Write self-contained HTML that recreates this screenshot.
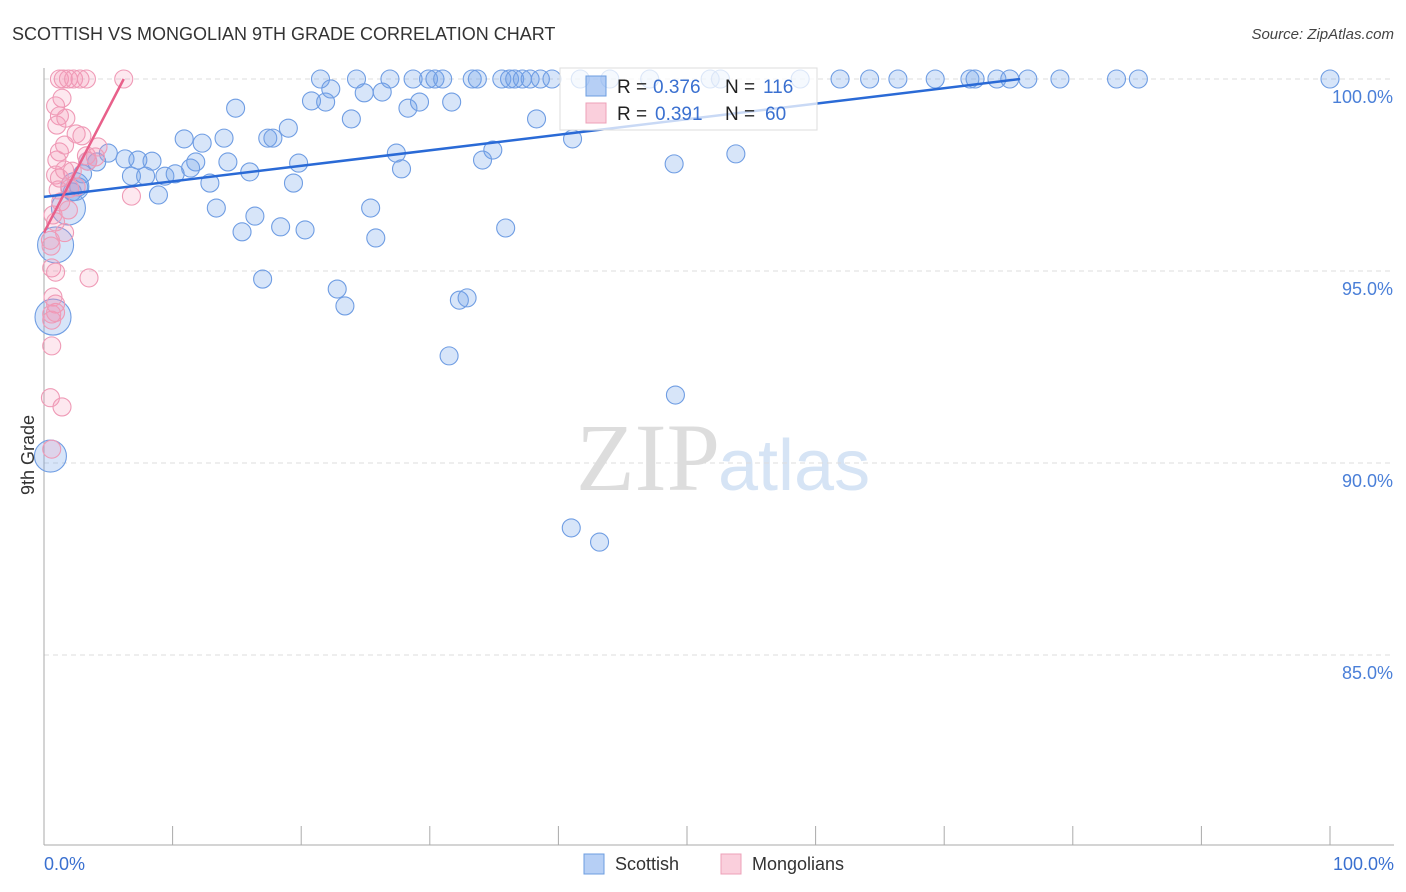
<!DOCTYPE html>
<html><head><meta charset="utf-8">
<style>
body{margin:0;background:#fff;font-family:"Liberation Sans",sans-serif;}
#wrap{position:relative;width:1406px;height:892px;overflow:hidden;}
</style></head>
<body>
<div id="wrap">
<svg id="svg" width="1406" height="892" xmlns="http://www.w3.org/2000/svg">
<text x="12" y="40" font-size="18" fill="#333">SCOTTISH VS MONGOLIAN 9TH GRADE CORRELATION CHART</text>
<text x="1394" y="39" font-size="15" font-style="italic" fill="#444" text-anchor="end">Source: ZipAtlas.com</text>
<text x="720" y="490" font-size="96" font-family="Liberation Serif, serif" fill="#ddd" text-anchor="end">ZIP</text>
<text x="718" y="490" font-size="72" fill="#d6e4f5">atlas</text>
<g id="grid"></g>
<g id="axes"></g>
<g id="pts"></g>
<g id="lines"></g>
<g>
<rect x="560" y="68" width="257" height="62" fill="rgba(255,255,255,0.75)" stroke="#ddd"/>
<rect x="586" y="76" width="20" height="20" fill="rgba(110,160,235,0.5)" stroke="#6c9de0"/>
<rect x="586" y="103" width="20" height="20" fill="rgba(245,160,185,0.5)" stroke="#eda0b8"/>
<text x="617" y="93" font-size="19" fill="#222">R =</text>
<text x="653" y="93" font-size="19" fill="#3a70d0">0.376</text>
<text x="725" y="93" font-size="19" fill="#222">N =</text>
<text x="763" y="93" font-size="19" fill="#3a70d0">116</text>
<text x="617" y="120" font-size="19" fill="#222">R =</text>
<text x="655" y="120" font-size="19" fill="#3a70d0">0.391</text>
<text x="725" y="120" font-size="19" fill="#222">N =</text>
<text x="765" y="120" font-size="19" fill="#3a70d0">60</text>
</g>
<text transform="translate(34,455) rotate(-90)" font-size="18" fill="#333" text-anchor="middle">9th Grade</text>
<text x="44" y="870" font-size="18" fill="#3a70d0">0.0%</text>
<text x="1394" y="870" font-size="18" fill="#3a70d0" text-anchor="end">100.0%</text>
<rect x="584" y="854" width="20" height="20" fill="rgba(110,160,235,0.5)" stroke="#6c9de0"/>
<text x="615" y="870" font-size="18" fill="#333">Scottish</text>
<rect x="721" y="854" width="20" height="20" fill="rgba(245,160,185,0.5)" stroke="#eda0b8"/>
<text x="752" y="870" font-size="18" fill="#333">Mongolians</text>
</svg>
</div>
<script>
const yTicks=[100,95,90,85];
const yTickLabels=["100.0%","95.0%","90.0%","85.0%"];
const xTicks=[0,10,20,30,40,50,60,70,80,90,100];
const blueX=[21.5,24.3,26.9,28.7,29.9,30.4,31.0,33.3,33.7,35.6,36.2,36.6,37.2,37.8,38.6,39.5,41.7,44.0,47.1,51.8,52.6,58.8,61.9,64.2,66.4,69.3,72.0,72.4,74.1,75.1,76.5,79.0,83.4,85.1,100,
14.9,20.8,21.9,22.3,23.9,24.9,26.3,28.3,29.2,31.7,38.3,10.9,12.3,14.0,17.4,17.8,19.0,27.4,34.9,41.1,53.8,49.0,34.1,27.8,19.8,14.3,11.8,11.4,5.0,6.3,8.4,7.3,3.4,4.1,
6.8,7.9,9.4,10.2,12.9,16.0,19.4,8.9,2.7,2.2,3.0,13.4,16.4,15.4,18.4,20.3,25.4,25.8,35.9,17.0,22.8,23.4,32.3,32.9,31.5,49.1,41.0,43.2,1.9,0.9,0.7,0.5,2.4];
const blueY=[100,100,100,100,100,100,100,100,100,100,100,100,100,100,100,100,100,100,100,100,100,100,100,100,100,100,100,100,100,100,100,100,100,100,100,
99.24,99.43,99.4,99.74,98.96,99.64,99.66,99.24,99.4,99.4,98.96,98.44,98.33,98.46,98.46,98.46,98.72,98.07,98.15,98.44,98.05,97.79,97.89,97.66,97.81,97.84,97.84,97.68,98.07,97.92,97.86,97.89,97.86,97.84,
97.47,97.47,97.47,97.53,97.29,97.58,97.29,96.98,97.19,97.06,97.53,96.64,96.43,96.02,96.15,96.07,96.64,95.86,96.12,94.79,94.53,94.09,94.24,94.3,92.79,91.77,88.31,87.94,96.64,95.68,93.8,90.18,97.2];
const pinkX=[1.2,1.5,1.9,2.3,2.8,3.3,6.2,1.4,1.2,1.0,1.7,1.2,1.6,2.5,2.95,1.0,0.9,1.2,1.6,2.2,2.5,3.3,4.2,4.0,3.4,1.1,1.3,0.7,0.9,0.5,0.55,1.6,0.6,0.9,1.9,3.5,6.8,0.7,0.9,0.6,0.6,0.9,0.6,0.5,1.4,0.6,0.9,2.0];
const pinkY=[100,100,100,100,100,100,100,99.5,99.04,98.8,98.98,98.1,98.28,98.57,98.52,97.89,97.5,97.42,97.63,97.6,97.19,98.0,98.23,97.97,97.86,97.11,96.8,96.46,96.28,95.8,95.65,96.0,95.08,94.97,96.59,94.82,96.95,94.32,94.14,93.88,93.72,93.92,93.05,91.7,91.46,90.36,99.3,97.15];
const blueLine=[0,96.93,75.9,100];
const pinkLine=[0,96.0,6.2,100];
const NS="http://www.w3.org/2000/svg";
const X0=44,X1=1330,Ytop=79,Ybot=847;
function sx(v){return X0+(X1-X0)*v/100;}
function sy(v){return Ytop+(100-v)*(Ybot-Ytop)/20;}
function mk(t,a,p){const e=document.createElementNS(NS,t);for(const k in a)e.setAttribute(k,a[k]);p.appendChild(e);return e;}
const grid=document.getElementById('grid'),axes=document.getElementById('axes'),pts=document.getElementById('pts'),lines=document.getElementById('lines');
yTicks.forEach((t,i)=>{
 const l=mk('line',{x1:44,x2:1394,y1:sy(t),y2:sy(t),stroke:'#ddd','stroke-dasharray':'5,4'},grid);
 
 
 const tx=mk('text',{x:1393,y:sy(t)+24,'font-size':18,fill:'#4a7fd8','text-anchor':'end'},grid);
 tx.textContent=yTickLabels[i];
 
 
});
const ya=mk('line',{x1:44,x2:44,y1:68,y2:845,stroke:'#aaa'},axes);


const xa=mk('line',{x1:44,x2:1394,y1:845,y2:845,stroke:'#aaa'},axes);


xTicks.forEach(t=>{
 const l=mk('line',{x1:sx(t),x2:sx(t),y1:826,y2:845,stroke:'#aaa'},axes);
 
 
});
const bigIdx=[blueX.length-5,blueX.length-4,blueX.length-3,blueX.length-2,blueX.length-1];
const bigR=[17,18,18,16,14];
blueX.forEach((x,i)=>{
 const bi=bigIdx.indexOf(i);
 const c=mk('circle',{cx:sx(x),cy:sy(blueY[i]),r:bi>=0?bigR[bi]:9,fill:'rgba(110,160,235,0.28)',stroke:'#6f9de3','stroke-width':1.1},pts);
 
 
});
pinkX.forEach((x,i)=>{
 const c=mk('circle',{cx:sx(x),cy:sy(pinkY[i]),r:9,fill:'rgba(245,150,180,0.22)',stroke:'#ef9ab6','stroke-width':1.1},pts);
 
 
});
const bl=mk('line',{x1:sx(blueLine[0]),y1:sy(blueLine[1]),x2:sx(blueLine[2]),y2:sy(blueLine[3]),stroke:'#2a6ad6','stroke-width':2.5},lines);


const pl=mk('line',{x1:sx(pinkLine[0]),y1:sy(pinkLine[1]),x2:sx(pinkLine[2]),y2:sy(pinkLine[3]),stroke:'#e8608a','stroke-width':2.5},lines);


</script>
</body></html>
